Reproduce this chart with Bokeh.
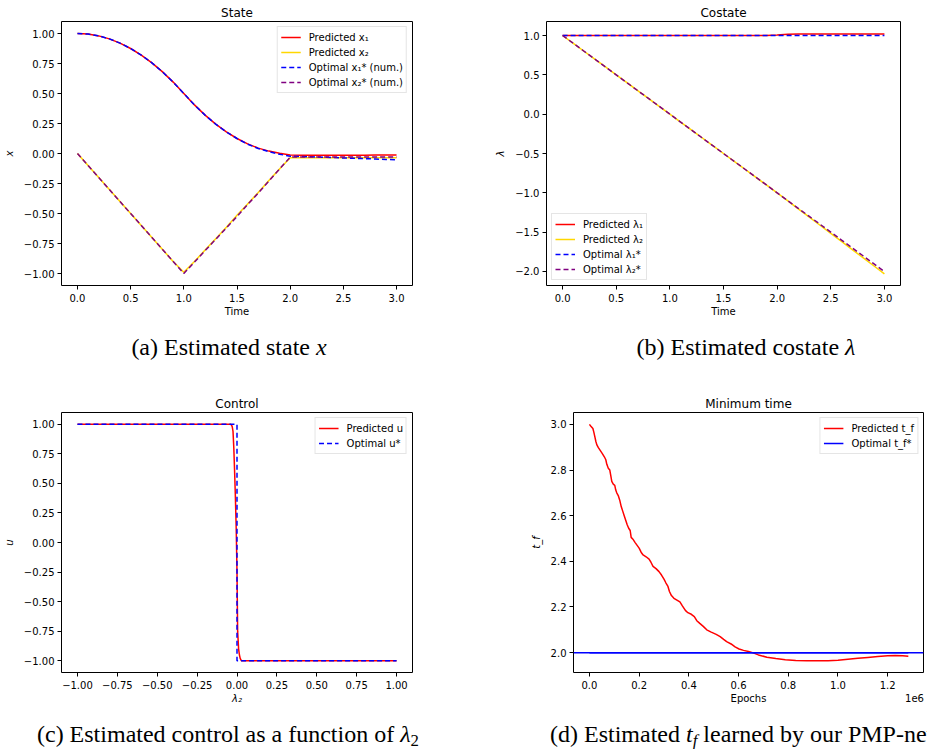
from bokeh.plotting import figure
from bokeh.models import (ColumnDataSource, FixedTicker, CustomJSTickFormatter,
                          Range1d, Span, Div, LinearAxis)
from bokeh.layouts import column, row
from bokeh.embed import file_html
from bokeh.resources import INLINE

# ---------------- data ----------------
time = [0.0, 0.1, 0.2, 0.3, 0.4, 0.5, 0.6, 0.7, 0.8, 0.9, 1.0,
        1.1, 1.2, 1.3, 1.4, 1.5, 1.6, 1.7, 1.8, 1.9, 2.0,
        2.1, 2.2, 2.3, 2.4, 2.5, 2.6, 2.7, 2.8, 2.9, 3.0]

x1_pred = [1.000, 0.995, 0.980, 0.955, 0.920, 0.875, 0.820, 0.755, 0.680, 0.595, 0.500,
           0.405, 0.320, 0.245, 0.180, 0.125, 0.080, 0.045, 0.020, 0.003, -0.012,
           -0.014, -0.014, -0.014, -0.014, -0.014, -0.014, -0.014, -0.013, -0.013, -0.013]
x2_pred = [0.000, -0.100, -0.200, -0.300, -0.400, -0.500, -0.600, -0.700, -0.800, -0.900, -0.990,
           -0.900, -0.805, -0.710, -0.615, -0.515, -0.420, -0.325, -0.225, -0.130, -0.035,
           -0.035, -0.035, -0.035, -0.035, -0.035, -0.035, -0.035, -0.035, -0.035, -0.035]
x1_opt = [1.000, 0.995, 0.980, 0.955, 0.920, 0.875, 0.820, 0.755, 0.680, 0.595, 0.500,
          0.405, 0.320, 0.245, 0.180, 0.125, 0.078, 0.042, 0.015, -0.006, -0.022,
          -0.025, -0.028, -0.031, -0.034, -0.037, -0.040, -0.043, -0.046, -0.049, -0.052]
x2_opt = [0.000, -0.100, -0.200, -0.300, -0.400, -0.500, -0.600, -0.700, -0.800, -0.900, -1.000,
          -0.905, -0.810, -0.715, -0.620, -0.525, -0.425, -0.330, -0.230, -0.130, -0.030,
          -0.030, -0.030, -0.030, -0.030, -0.030, -0.030, -0.030, -0.030, -0.030, -0.030]

lam1_pred = [1.000, 1.000, 1.000, 1.000, 1.000, 1.000, 1.000, 1.000, 1.000, 1.000, 1.000,
             1.000, 1.000, 1.000, 1.000, 1.000, 1.000, 1.000, 1.000, 1.000, 1.005,
             1.015, 1.020, 1.020, 1.020, 1.020, 1.020, 1.020, 1.020, 1.020, 1.020]
lam2_pred = [1.000, 0.900, 0.800, 0.700, 0.600, 0.500, 0.400, 0.300, 0.200, 0.100, 0.000,
             -0.100, -0.200, -0.300, -0.400, -0.500, -0.600, -0.700, -0.800, -0.900, -1.000,
             -1.103, -1.206, -1.309, -1.412, -1.515, -1.618, -1.721, -1.824, -1.927, -2.030]
lam1_opt = [1.000, 1.000, 1.000, 1.000, 1.000, 1.000, 1.000, 1.000, 1.000, 1.000, 1.000,
            1.000, 1.000, 1.000, 1.000, 1.000, 1.000, 1.000, 1.000, 1.000, 1.000,
            1.000, 1.000, 1.000, 1.000, 1.000, 1.000, 1.000, 1.000, 1.000, 1.000]
lam2_opt = [1.000, 0.900, 0.800, 0.700, 0.600, 0.500, 0.400, 0.300, 0.200, 0.100, 0.000,
            -0.100, -0.200, -0.300, -0.400, -0.500, -0.600, -0.700, -0.800, -0.900, -1.000,
            -1.100, -1.200, -1.300, -1.400, -1.500, -1.600, -1.700, -1.800, -1.900, -2.000]

lam2_grid = [-1.0, -0.5, -0.1, -0.04, -0.035, -0.03, -0.025, -0.02, -0.015, -0.01, -0.005,
             0.0, 0.004, 0.01, 0.015, 0.02, 0.027, 0.05, 0.1, 0.5, 1.0]
u_pred = [1.0, 1.0, 1.0, 1.0, 0.995, 0.98, 0.94, 0.80, 0.60, 0.38, 0.12,
          -0.25, -0.75, -0.90, -0.95, -0.98, -1.0, -1.0, -1.0, -1.0, -1.0]
lam2_opt_grid = [-1.0, 0.0, 0.0, 1.0]
u_opt = [1.0, 1.0, -1.0, -1.0]

epochs = [0, 6000, 14000, 18000, 22000, 26000, 30000, 36000, 44000, 52000, 60000,
          66000, 70000, 76000, 82000, 86000, 90000, 96000, 102000, 106000, 110000,
          116000, 122000, 128000, 134000, 140000, 146000, 152000, 158000, 164000, 168000,
          175000, 184000, 192000, 200000, 208000, 216000, 228000, 240000, 248000, 256000,
          268000, 280000, 290000, 300000, 308000, 316000, 322000, 330000, 340000, 352000,
          364000, 374000, 386000, 396000, 410000, 422000, 432000, 444000, 458000, 472000,
          490000, 510000, 526000, 540000, 552000, 570000, 586000, 602000, 620000, 640000,
          656000, 680000, 714000, 750000, 788000, 830000, 875000, 920000, 960000, 1000000,
          1040000, 1080000, 1120000, 1160000, 1200000, 1230000, 1260000, 1283000]
tf_pred = [3.000, 2.992, 2.982, 2.965, 2.945, 2.925, 2.910, 2.898, 2.885, 2.872, 2.858,
           2.845, 2.825, 2.808, 2.800, 2.775, 2.750, 2.738, 2.733, 2.712, 2.700,
           2.688, 2.668, 2.640, 2.620, 2.600, 2.580, 2.560, 2.545, 2.535, 2.505,
           2.497, 2.482, 2.470, 2.458, 2.440, 2.428, 2.420, 2.410, 2.395, 2.378,
           2.368, 2.355, 2.340, 2.322, 2.305, 2.290, 2.268, 2.250, 2.238, 2.230,
           2.222, 2.205, 2.185, 2.175, 2.168, 2.158, 2.140, 2.128, 2.115, 2.100,
           2.090, 2.080, 2.070, 2.058, 2.048, 2.038, 2.025, 2.016, 2.010, 2.005,
           2.000, 1.990, 1.980, 1.974, 1.969, 1.966, 1.964, 1.964, 1.965, 1.967,
           1.971, 1.975, 1.979, 1.983, 1.986, 1.987, 1.986, 1.984]
tf_opt = 2.0

ticks_time = [0.0, 0.5, 1.0, 1.5, 2.0, 2.5, 3.0]
ticks_state = [-1.0, -0.75, -0.5, -0.25, 0.0, 0.25, 0.5, 0.75, 1.0]
ticks_costate = [-2.0, -1.5, -1.0, -0.5, 0.0, 0.5, 1.0]
ticks_lam2 = [-1.0, -0.75, -0.5, -0.25, 0.0, 0.25, 0.5, 0.75, 1.0]
ticks_u = [-1.0, -0.75, -0.5, -0.25, 0.0, 0.25, 0.5, 0.75, 1.0]
ticks_epochs = [0, 200000, 400000, 600000, 800000, 1000000, 1200000]
ticks_tf = [2.0, 2.2, 2.4, 2.6, 2.8, 3.0]
epoch_scale_text = "1e6"

SUB = '<span style="font-size:70%;position:relative;top:4px">{}</span>'
captions_top = ["(a) Estimated state <i>x</i>", "(b) Estimated costate <i>\u03bb</i>"]
captions_bottom = ["(c) Estimated control as a function of <i>\u03bb</i>" + SUB.format("2"),
                   "(d) Estimated <i>t" + SUB.format("f") + "</i> learned by our PMP-net"]

# ---------------- helpers ----------------
FONT = "DejaVu Sans"
LW = 1.5
DASH = "5 3"


def fmt(d):
    return CustomJSTickFormatter(args=dict(d=d),
                                 code="return tick.toFixed(d).replace('-', '\u2212');")


def make_fig(w, h, title, xr, yr, mb):
    p = figure(width=w, height=h, x_range=Range1d(*xr), y_range=Range1d(*yr),
               output_backend="svg", toolbar_location=None,
               min_border_left=mb[0], min_border_right=mb[1],
               min_border_top=mb[2], min_border_bottom=mb[3])
    p.title.text = title
    p.title.text_font = FONT
    p.title.text_font_size = "12px"
    p.title.text_font_style = "normal"
    p.title.text_color = "black"
    p.title.align = "center"
    p.title.standoff = 4
    p.outline_line_color = "black"
    p.outline_line_width = 1
    p.outline_line_alpha = 1
    p.xgrid.visible = False
    p.ygrid.visible = False
    p.background_fill_color = "white"
    p.border_fill_color = "white"
    for ax in (p.xaxis[0], p.yaxis[0]):
        style_axis(ax)
    p.xaxis[0].major_label_standoff = 4
    p.xaxis[0].axis_label_standoff = 1
    p.yaxis[0].major_label_standoff = 3
    p.yaxis[0].axis_label_standoff = 6
    return p


def style_axis(ax):
    ax.axis_line_color = None
    ax.major_tick_in = 0
    ax.major_tick_out = 4
    ax.major_tick_line_color = "black"
    ax.major_tick_line_width = 1
    ax.minor_tick_line_color = None
    ax.major_label_text_font = FONT
    ax.major_label_text_font_size = "10px"
    ax.major_label_text_color = "black"
    ax.axis_label_text_font = FONT
    ax.axis_label_text_font_size = "10px"
    ax.axis_label_text_color = "black"


def set_axes(p, xticks, xfmt, xlabel, xital, yticks, yfmt, ylabel, yital):
    p.xaxis[0].ticker = FixedTicker(ticks=xticks)
    p.xaxis[0].formatter = xfmt
    p.xaxis[0].axis_label = xlabel
    p.xaxis[0].axis_label_text_font_style = "italic" if xital else "normal"
    p.yaxis[0].ticker = FixedTicker(ticks=yticks)
    p.yaxis[0].formatter = yfmt
    p.yaxis[0].axis_label = ylabel
    p.yaxis[0].axis_label_text_font_style = "italic" if yital else "normal"


def style_legend(p, loc):
    lg = p.legend[0]
    lg.location = loc
    lg.label_text_font = FONT
    lg.label_text_font_size = "10px"
    lg.label_text_color = "black"
    lg.glyph_width = 20
    lg.glyph_height = 14
    lg.label_height = 14
    lg.label_standoff = 8
    lg.spacing = 1
    lg.padding = 3
    lg.margin = 5
    lg.border_line_color = "#cccccc"
    lg.border_line_width = 1
    lg.background_fill_alpha = 0.8


def caption_row(items, w, h):
    # items: (html, left, width, top, align)
    spans = []
    for html, left, width, top, align in items:
        spans.append(
            f'<div style="position:absolute;left:{left}px;top:{top}px;width:{width}px;'
            f'text-align:{align};white-space:nowrap;line-height:22px;">{html}</div>')
    inner = (f'<div style="position:relative;width:{w}px;height:{h}px;overflow:hidden;'
             "font-family:'Liberation Serif','Times New Roman',serif;font-size:24px;color:#000;\">"
             + "".join(spans) + "</div>")
    return Div(text=inner, width=w, height=h, margin=0)


# ---------------- (a) State ----------------
src_state = ColumnDataSource(dict(t=time, x1p=x1_pred, x2p=x2_pred, x1o=x1_opt, x2o=x2_opt))
fa = make_fig(460, 322, "State", (-0.15, 3.15), (-1.1, 1.1), (58, 48, 21, 37))
set_axes(fa, ticks_time, fmt(1), "Time", False, ticks_state, fmt(2), "x", True)
fa.line("t", "x1p", source=src_state, color="red", line_width=LW, legend_label="Predicted x\u2081")
fa.line("t", "x2p", source=src_state, color="gold", line_width=LW, legend_label="Predicted x\u2082")
fa.line("t", "x1o", source=src_state, color="blue", line_width=LW, line_dash=DASH,
        legend_label="Optimal x\u2081* (num.)")
fa.line("t", "x2o", source=src_state, color="purple", line_width=LW, line_dash=DASH,
        legend_label="Optimal x\u2082* (num.)")
style_legend(fa, "top_right")

# ---------------- (b) Costate ----------------
src_cost = ColumnDataSource(dict(t=time, l1p=lam1_pred, l2p=lam2_pred, l1o=lam1_opt, l2o=lam2_opt))
fb = make_fig(467, 322, "Costate", (-0.15, 3.15), (-2.178, 1.178), (86, 27, 21, 37))
set_axes(fb, ticks_time, fmt(1), "Time", False, ticks_costate, fmt(1), "\u03bb", True)
fb.line("t", "l1p", source=src_cost, color="red", line_width=LW, legend_label="Predicted \u03bb\u2081")
fb.line("t", "l2p", source=src_cost, color="gold", line_width=LW, legend_label="Predicted \u03bb\u2082")
fb.line("t", "l1o", source=src_cost, color="blue", line_width=LW, line_dash=DASH,
        legend_label="Optimal \u03bb\u2081*")
fb.line("t", "l2o", source=src_cost, color="purple", line_width=LW, line_dash=DASH,
        legend_label="Optimal \u03bb\u2082*")
style_legend(fb, "bottom_left")

# ---------------- (c) Control ----------------
src_up = ColumnDataSource(dict(l=lam2_grid, u=u_pred))
src_uo = ColumnDataSource(dict(l=lam2_opt_grid, u=u_opt))
fc = make_fig(460, 332, "Control", (-1.1, 1.1), (-1.1, 1.1), (58, 48, 28, 40))
set_axes(fc, ticks_lam2, fmt(2), "\u03bb\u2082", True, ticks_u, fmt(2), "u", True)
fc.line("l", "u", source=src_up, color="red", line_width=LW, legend_label="Predicted u")
fc.line("l", "u", source=src_uo, color="blue", line_width=LW, line_dash=DASH, legend_label="Optimal u*")
style_legend(fc, "top_right")

# ---------------- (d) Minimum time ----------------
EX0, EX1 = -64000, 1344000
src_tf = ColumnDataSource(dict(e=epochs, tf=tf_pred))
src_tfo = ColumnDataSource(dict(e=[epochs[0], epochs[-1]], tf=[tf_opt, tf_opt]))
fd = make_fig(467, 332, "Minimum time", (EX0, EX1), (1.913, 3.052), (113, 4, 32, 40))
epoch_fmt = CustomJSTickFormatter(code="return (tick/1e6).toFixed(1);")
set_axes(fd, ticks_epochs, epoch_fmt, None, False, ticks_tf, fmt(1), "t_f", True)
fd.line("e", "tf", source=src_tf, color="red", line_width=LW, legend_label="Predicted t_f")
fd.add_layout(Span(location=tf_opt, dimension="width", line_color="blue", line_width=LW))
fd.line("e", "tf", source=src_tfo, color="blue", line_width=LW, legend_label="Optimal t_f*")
style_legend(fd, "top_right")
# second row under the x axis: the "Epochs" label (centred) and the "1e6" offset text (right)
label_pos = [(EX0 + EX1) / 2, EX1 - (EX1 - EX0) * 9 / 350]
ax_lbl = LinearAxis(ticker=FixedTicker(ticks=label_pos),
                    formatter=CustomJSTickFormatter(
                        args=dict(mid=label_pos[0], off=epoch_scale_text),
                        code="return tick > mid ? off : 'Epochs';"))
style_axis(ax_lbl)
ax_lbl.major_tick_out = 0
ax_lbl.major_tick_line_color = None
ax_lbl.major_label_standoff = 1
fd.add_layout(ax_lbl, "below")

# ---------------- captions ----------------
cap_top = caption_row([(captions_top[0], 29, 400, 14, "center"),
                       (captions_top[1], 596, 300, 14, "center")], 927, 58)
cap_bot = caption_row([(captions_bottom[0], 28, 400, 11, "center"),
                       (captions_bottom[1], 550, 400, 11, "left")], 927, 37)

layout = column(row(fa, fb), cap_top, row(fc, fd), cap_bot)

open("out.html", "w").write(file_html(layout, INLINE))
